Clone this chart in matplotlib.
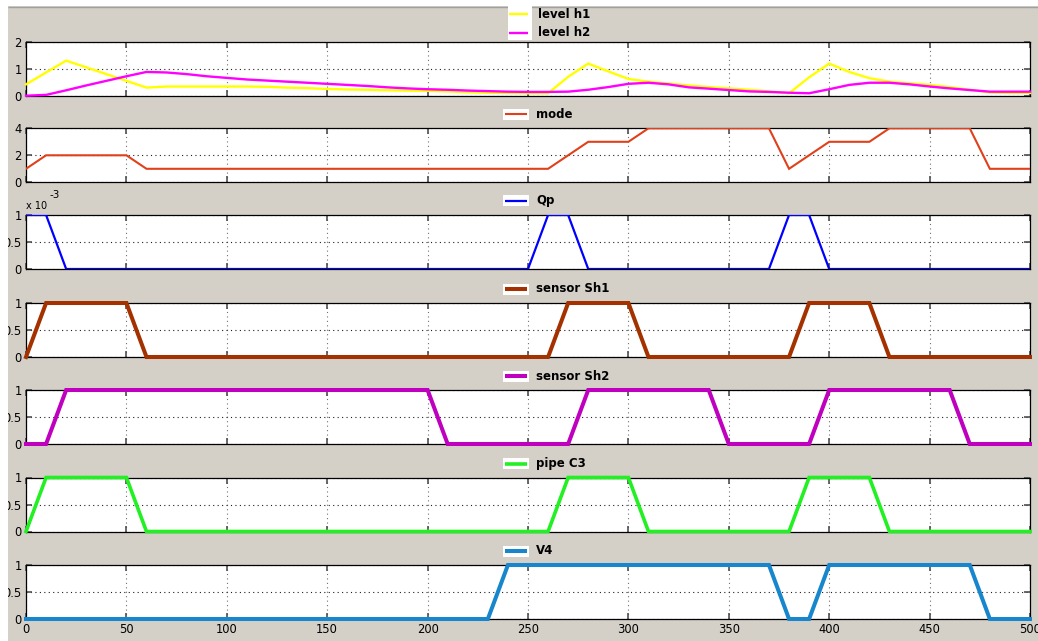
import numpy as np
import matplotlib
matplotlib.use("Agg")
import matplotlib.pyplot as plt
from matplotlib.patches import Rectangle
from matplotlib.lines import Line2D

W, H = 1038, 641

# ---- data -------------------------------------------------------------
# tank levels, sampled every 10 s
t_level = np.arange(0, 501, 10)
level_h1 = [0.42, 0.86, 1.30, 1.05, 0.80, 0.55, 0.30, 0.34, 0.34, 0.34,
            0.34, 0.34, 0.33, 0.30, 0.28, 0.25, 0.23, 0.22, 0.20, 0.19,
            0.18, 0.16, 0.13, 0.11, 0.10, 0.09, 0.09, 0.70, 1.19, 0.90,
            0.62, 0.52, 0.45, 0.38, 0.32, 0.27, 0.22, 0.16, 0.09, 0.68,
            1.19, 0.88, 0.65, 0.52, 0.46, 0.40, 0.32, 0.22, 0.12, 0.10,
            0.10]
level_h2 = [0.00, 0.03, 0.20, 0.38, 0.55, 0.72, 0.88, 0.86, 0.80, 0.72,
            0.66, 0.60, 0.56, 0.52, 0.48, 0.44, 0.40, 0.36, 0.31, 0.27,
            0.24, 0.22, 0.19, 0.17, 0.15, 0.14, 0.14, 0.15, 0.22, 0.32,
            0.44, 0.48, 0.42, 0.31, 0.26, 0.21, 0.16, 0.14, 0.11, 0.09,
            0.24, 0.40, 0.48, 0.48, 0.42, 0.34, 0.27, 0.21, 0.15, 0.15,
            0.15]

# discrete signals as (time, value) breakpoints
mode_t = [0, 10, 50, 60, 260, 280, 300, 310, 370, 380, 400, 420, 430, 470, 480, 500]
mode_v = [1, 2, 2, 1, 1, 3, 3, 4, 4, 1, 3, 3, 4, 4, 1, 1]

qp_t = [0, 10, 20, 250, 260, 270, 280, 370, 380, 390, 400, 500]
qp_v = [1e-3, 1e-3, 0, 0, 1e-3, 1e-3, 0, 0, 1e-3, 1e-3, 0, 0]

sh1_t = [0, 10, 50, 60, 260, 270, 300, 310, 380, 390, 420, 430, 500]
sh1_v = [0, 1, 1, 0, 0, 1, 1, 0, 0, 1, 1, 0, 0]

sh2_t = [0, 10, 20, 200, 210, 270, 280, 340, 350, 390, 400, 460, 470, 500]
sh2_v = [0, 0, 1, 1, 0, 0, 1, 1, 0, 0, 1, 1, 0, 0]

c3_t = [0, 10, 50, 60, 260, 270, 300, 310, 380, 390, 420, 430, 500]
c3_v = [0, 1, 1, 0, 0, 1, 1, 0, 0, 1, 1, 0, 0]

v4_t = [0, 230, 240, 370, 380, 390, 400, 470, 480, 500]
v4_v = [0, 0, 1, 1, 0, 0, 1, 1, 0, 0]

x_ticks = [0, 50, 100, 150, 200, 250, 300, 350, 400, 450, 500]

# ---- figure -----------------------------------------------------------
BG = "#D4D0C8"
fig = plt.figure(figsize=(W / 100, H / 100), dpi=100, facecolor=BG)
plt.rcParams["font.family"] = ["DejaVu Sans"]


def fx(px):
    return px / W


def fy(py):
    return 1 - py / H


def fig_rect(x0, y0, x1, y1, color, z):
    fig.add_artist(Rectangle((fx(x0), fy(y1)), (x1 - x0) / W, (y1 - y0) / H,
                             transform=fig.transFigure, facecolor=color,
                             edgecolor="none", zorder=z))


def fig_line(x0, x1, y, color, lw, z):
    fig.add_artist(Line2D([fx(x0), fx(x1)], [fy(y), fy(y)],
                          transform=fig.transFigure, color=color, lw=lw,
                          solid_capstyle="butt", zorder=z))


AX_LEFT, AX_RIGHT, AX_H = 26, 1030, 54

# series entries: (x, y, colour, linewidth, label, clip to axes)
panels = [
    dict(top=41.7, ylim=(0, 2), yticks=[0, 1, 2], ylabels=["0", "1", "2"],
         series=[(t_level, level_h1, "#FFFF00", 1.7, "level h1", False),
                 (t_level, level_h2, "#FF00FF", 1.7, "level h2", False)]),
    dict(top=128.3, ylim=(0, 4), yticks=[0, 2, 4], ylabels=["0", "2", "4"],
         series=[(mode_t, mode_v, "#E0401A", 1.5, "mode", True)]),
    dict(top=215.0, ylim=(0, 1e-3), yticks=[0, 0.5e-3, 1e-3],
         ylabels=["0", "0.5", "1"],
         series=[(qp_t, qp_v, "#0000FF", 1.6, "Qp", True)]),
    dict(top=303.0, ylim=(0, 1), yticks=[0, 0.5, 1], ylabels=["0", "0.5", "1"],
         series=[(sh1_t, sh1_v, "#A33200", 2.9, "sensor Sh1", False)]),
    dict(top=390.0, ylim=(0, 1), yticks=[0, 0.5, 1], ylabels=["0", "0.5", "1"],
         series=[(sh2_t, sh2_v, "#BF00BF", 2.9, "sensor Sh2", False)]),
    dict(top=477.5, ylim=(0, 1), yticks=[0, 0.5, 1], ylabels=["0", "0.5", "1"],
         series=[(c3_t, c3_v, "#22F022", 2.6, "pipe C3", False)]),
    dict(top=565.0, ylim=(0, 1), yticks=[0, 0.5, 1], ylabels=["0", "0.5", "1"],
         series=[(v4_t, v4_v, "#1786CC", 2.9, "V4", False)]),
]

for i, p in enumerate(panels):
    ax = fig.add_axes([fx(AX_LEFT), fy(p["top"] + AX_H),
                       (AX_RIGHT - AX_LEFT) / W, AX_H / H])
    ax.set_facecolor("white")
    for xs, ys, col, lw, lab, clip in p["series"]:
        ax.plot(xs, ys, color=col, lw=lw, solid_joinstyle="miter",
                clip_on=clip, zorder=3)
    ax.set_xlim(0, 500)
    ax.set_ylim(*p["ylim"])
    ax.set_xticks(x_ticks)
    ax.set_yticks(p["yticks"])
    ax.set_yticklabels(p["ylabels"])
    if i == len(panels) - 1:
        ax.set_xticklabels([str(v) for v in x_ticks])
    else:
        ax.set_xticklabels([])
    ax.xaxis.grid(True, linestyle=(0, (1, 3)), color="#707070", lw=0.8)
    ax.yaxis.grid(True, linestyle=(0, (1, 3)), color="#202020", lw=0.8)
    ax.tick_params(direction="in", length=4, width=1.2, color="#505050",
                   top=True, right=True, labelsize=8.3, pad=3,
                   labelcolor="black")
    for s in ax.spines.values():
        s.set_color("black")
        s.set_linewidth(0.9)

    # legend: white swatch with line sample, bold label on the gray
    if i == 0:
        fig_rect(508, 0, 532, 40, "white", 6)
        for entry, yy in zip(p["series"], [14, 33]):
            xs, ys, col, lw, lab, clip = entry
            fig_line(509, 528, yy, col, lw, 7)
            fig.text(fx(538), fy(yy), lab, fontsize=8.5, fontweight="bold",
                     ha="left", va="center", zorder=7)
    else:
        yy = p["top"] - 14
        xs, ys, col, lw, lab, clip = p["series"][0]
        fig_rect(503, yy - 5.5, 529, yy + 5.5, "white", 6)
        fig_line(505, 527, yy, col, lw, 7)
        fig.text(fx(536), fy(yy), lab, fontsize=8.5, fontweight="bold",
                 ha="left", va="center", zorder=7)

# exponent note for the Qp axis
fig.text(fx(26), fy(206), "x 10", fontsize=7, ha="left", va="center")
fig.text(fx(49), fy(195), "-3", fontsize=7.5, ha="left", va="center")

# window border strips
fig_rect(0, 0, 8, H, "white", 5)
fig_rect(0, 0, W, 6, "white", 5)
fig_line(8, W, 6.5, "#A0A0A0", 1.0, 5)

fig.savefig("out.png", dpi=100, facecolor=BG)
